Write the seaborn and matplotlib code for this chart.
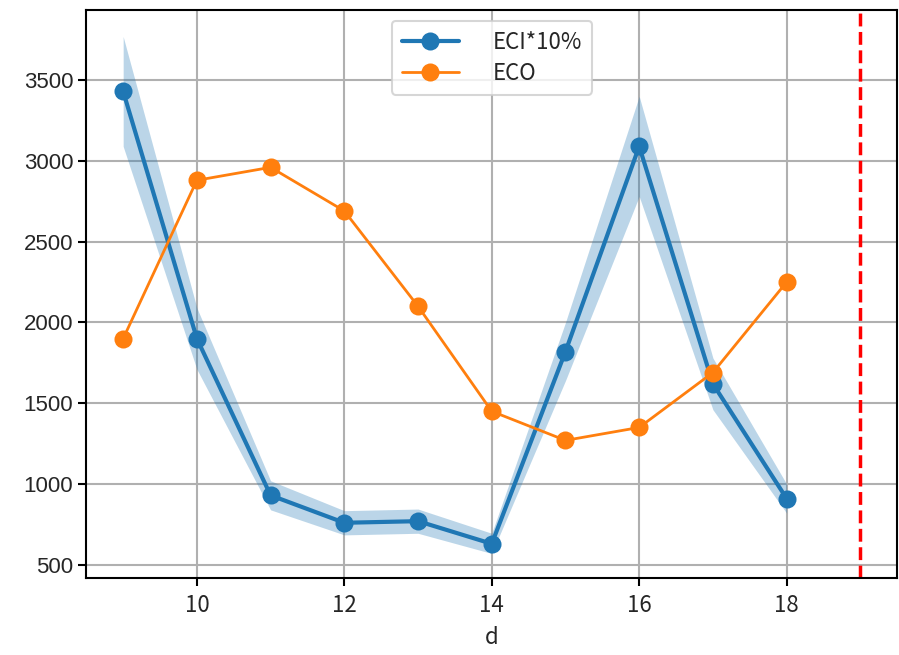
import matplotlib
matplotlib.use("Agg")
import matplotlib.pyplot as plt
import seaborn as sns
import pandas as pd

# -------------------------
# Data
# -------------------------
d = [9, 10, 11, 12, 13, 14, 15, 16, 17, 18]
eci_10 = [3430, 1900, 930, 760, 770, 630, 1820, 3090, 1620, 910]
eci_low = [3090, 1710, 840, 685, 695, 570, 1640, 2780, 1460, 820]
eci_high = [3770, 2090, 1020, 835, 845, 695, 2000, 3400, 1780, 1000]
eco = [1900, 2880, 2960, 2690, 2100, 1450, 1270, 1350, 1690, 2250]
cutoff = 19

df = pd.DataFrame({"d": d, "ECI*10%": eci_10, "ECO": eco})

# -------------------------
# Plot
# -------------------------
sns.set_style("whitegrid")
plt.rcParams["font.family"] = ["Noto Sans CJK JP", "DejaVu Sans"]

fig, ax = plt.subplots(figsize=(8.99, 6.55), dpi=100)

sns.lineplot(data=df, x="d", y="ECI*10%", ax=ax, color="#1f77b4", linewidth=3,
             marker="o", markersize=13, markeredgewidth=0, label="ECI*10%")
ax.fill_between(d, eci_low, eci_high, color="#1f77b4", alpha=0.3, linewidth=0)
sns.lineplot(data=df, x="d", y="ECO", ax=ax, color="#ff7f0e", linewidth=2,
             marker="o", markersize=13, markeredgewidth=0, label="ECO")
ax.axvline(cutoff, color="red", linestyle="--", linewidth=2.5)

ax.set_xlim(8.5, 19.5)
ax.set_ylim(420, 3935)
ax.set_xlabel("d", fontsize=16, labelpad=6)
ax.set_ylabel("")
ax.set_xticks([10, 12, 14, 16, 18])
ax.set_yticks([500, 1000, 1500, 2000, 2500, 3000, 3500])

ax.tick_params(axis="both", direction="out", length=6, width=1.5, color="black",
               bottom=True, left=True)
ax.tick_params(axis="x", labelsize=16, pad=6)
ax.tick_params(axis="y", labelsize=16)
for lab in ax.get_yticklabels():
    lab.set_family("Liberation Sans")

ax.grid(True, color="#b0b0b0", linewidth=1.5)
for s in ax.spines.values():
    s.set_color("black")
    s.set_linewidth(1.5)

leg = ax.legend(loc="upper center", fontsize=16, handletextpad=1.5,
                handlelength=2.6, labelspacing=0.35, borderpad=0.45, frameon=True)
leg.get_frame().set_edgecolor("#cccccc")
leg.get_frame().set_linewidth(1.5)

plt.subplots_adjust(left=0.096, right=0.998, top=0.985, bottom=0.118)
plt.savefig("out.png", dpi=100)
